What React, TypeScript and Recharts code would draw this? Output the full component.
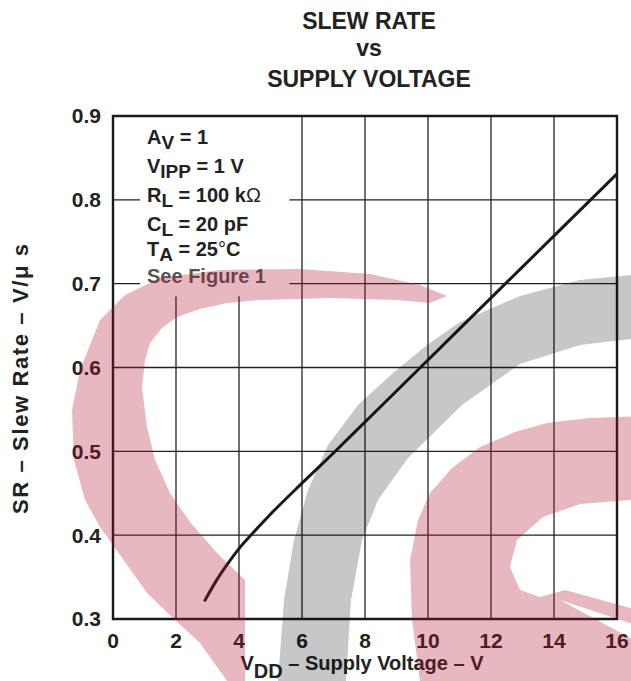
import { LineChart, Line, XAxis, YAxis, CartesianGrid, ReferenceArea } from "recharts"

const supplyVoltage = [2.9, 3.3, 3.7, 4, 4.5, 5, 6, 7, 8, 10, 12, 14, 16]
const slewRate = [0.321, 0.347, 0.369, 0.384, 0.405, 0.425, 0.462, 0.498, 0.535, 0.609, 0.683, 0.757, 0.831]
const xTicks = [0, 2, 4, 6, 8, 10, 12, 14, 16]
const yTicks = [0.3, 0.4, 0.5, 0.6, 0.7, 0.8, 0.9]

const data = supplyVoltage.map((v, i) => ({ vdd: v, sr: slewRate[i] }))

const FONT = '"Liberation Sans", Arial, Helvetica, sans-serif'
const INK = "#222"

// watermark shapes (decoration only)
const pinkLeft =
  "M447,296 L420,285 L370,274 L300,269 L220,270 L160,278 L125,295 L100,320 L80,370 L72,410 L74,460 L85,500 L100,527 L125,562 L147,593 L175,620 L200,643 L227,681 L245,681 L245,580 L217,553 L190,522 L170,493 L155,460 L147,427 L142,387 L145,360 L150,343 L162,328 L177,317 L200,309 L227,303 L260,300 L330,298 L397,300 L430,303 Z"
const grayArc =
  "M278,681 L284,600 L294,540 L308,490 L328,445 L358,405 L393,373 L427,345 L460,322 L520,296 L580,280 L640,274 L640,338 L580,345 L520,364 L462,405 L408,458 L378,500 L362,540 L351,600 L346,681 Z"
const pinkRight =
  "M420,681 L412,620 L410,560 L418,520 L430,493 L452,468 L480,447 L515,432 L547,423 L590,418 L645,416 L645,681 Z " +
  "M645,499 L580,504 L543,517 L517,540 L510,567 L520,590 L540,597 L565,590 L645,612 Z " +
  "M560,600 L645,628 L645,646 Z"

const Sub = ({ children }: { children: string }) => (
  <tspan dy={5} fontSize={19}>{children}</tspan>
)

export default function App() {
  return (
    <div style={{ position: "absolute", left: 0, top: 0, width: 631, height: 681, background: "#fff" }}>
      <LineChart
        width={631}
        height={681}
        data={data}
        margin={{ top: 116, right: 14, bottom: 32, left: 53 }}
      >
        <CartesianGrid stroke={INK} strokeWidth={1.3} />
        <XAxis
          dataKey="vdd"
          type="number"
          domain={[0, 16]}
          ticks={xTicks}
          axisLine={false}
          tickLine={false}
          tickSize={0}
          tickMargin={14}
          height={30}
          tick={{ fontSize: 21, fontWeight: "bold", fill: INK, fontFamily: FONT }}
        />
        <YAxis
          type="number"
          domain={[0.3, 0.9]}
          ticks={yTicks}
          axisLine={false}
          tickLine={false}
          tickSize={0}
          tickMargin={12}
          width={60}
          tickFormatter={(v: number) => v.toFixed(1)}
          tick={{ fontSize: 21, fontWeight: "bold", fill: INK, fontFamily: FONT }}
        />
        <ReferenceArea x1={0.86} x2={5.6} y1={0.685} y2={0.9} fill="#fff" fillOpacity={1} stroke="none" />
        <ReferenceArea x1={0} x2={16} y1={0.3} y2={0.9} fill="none" stroke="#1a1a1a" strokeWidth={2.4} />
        <Line
          type="monotone"
          dataKey="sr"
          stroke="#1a1a1a"
          strokeWidth={3}
          dot={false}
          isAnimationActive={false}
        />
      </LineChart>

      <svg
        width={631}
        height={681}
        style={{ position: "absolute", left: 0, top: 0, pointerEvents: "none" }}
      >
        <g fontFamily={FONT} fontWeight="bold" fill={INK}>
          <text x={369} y={29} fontSize={23} textAnchor="middle">SLEW RATE</text>
          <text x={369} y={56} fontSize={23} textAnchor="middle">vs</text>
          <text x={369} y={87} fontSize={23} textAnchor="middle">SUPPLY VOLTAGE</text>

          <g fontSize={20}>
            <text x={147} y={144}>A<Sub>V</Sub><tspan dy={-5}> = 1</tspan></text>
            <text x={147} y={173}>V<Sub>IPP</Sub><tspan dy={-5}> = 1 V</tspan></text>
            <text x={147} y={202}>R<Sub>L</Sub><tspan dy={-5}> = 100 k</tspan><tspan fontWeight="normal">Ω</tspan></text>
            <text x={147} y={231}>C<Sub>L</Sub><tspan dy={-5}> = 20 pF</tspan></text>
            <text x={147} y={256}>T<Sub>A</Sub><tspan dy={-5}> = 25</tspan><tspan fontWeight="normal">°</tspan><tspan>C</tspan></text>
            <text x={147} y={283} fill="#555">See Figure 1</text>
          </g>

          <text x={362} y={670} fontSize={20} textAnchor="middle">
            V<tspan dy={8}>DD</tspan><tspan dy={-8}> – Supply Voltage – V</tspan>
          </text>
          <text
            x={0}
            y={0}
            fontSize={22}
            textAnchor="middle"
            textLength={270}
            lengthAdjust="spacing"
            transform="translate(28,379) rotate(-90)"
          >
            SR – Slew Rate – V/μ s
          </text>
        </g>

        <path d={pinkLeft} fill="rgb(180,20,50)" fillOpacity={0.3} />
        <path d={grayArc} fill="#000" fillOpacity={0.22} />
        <path d={pinkRight} fill="rgb(180,20,50)" fillOpacity={0.3} fillRule="evenodd" />
      </svg>
    </div>
  )
}
